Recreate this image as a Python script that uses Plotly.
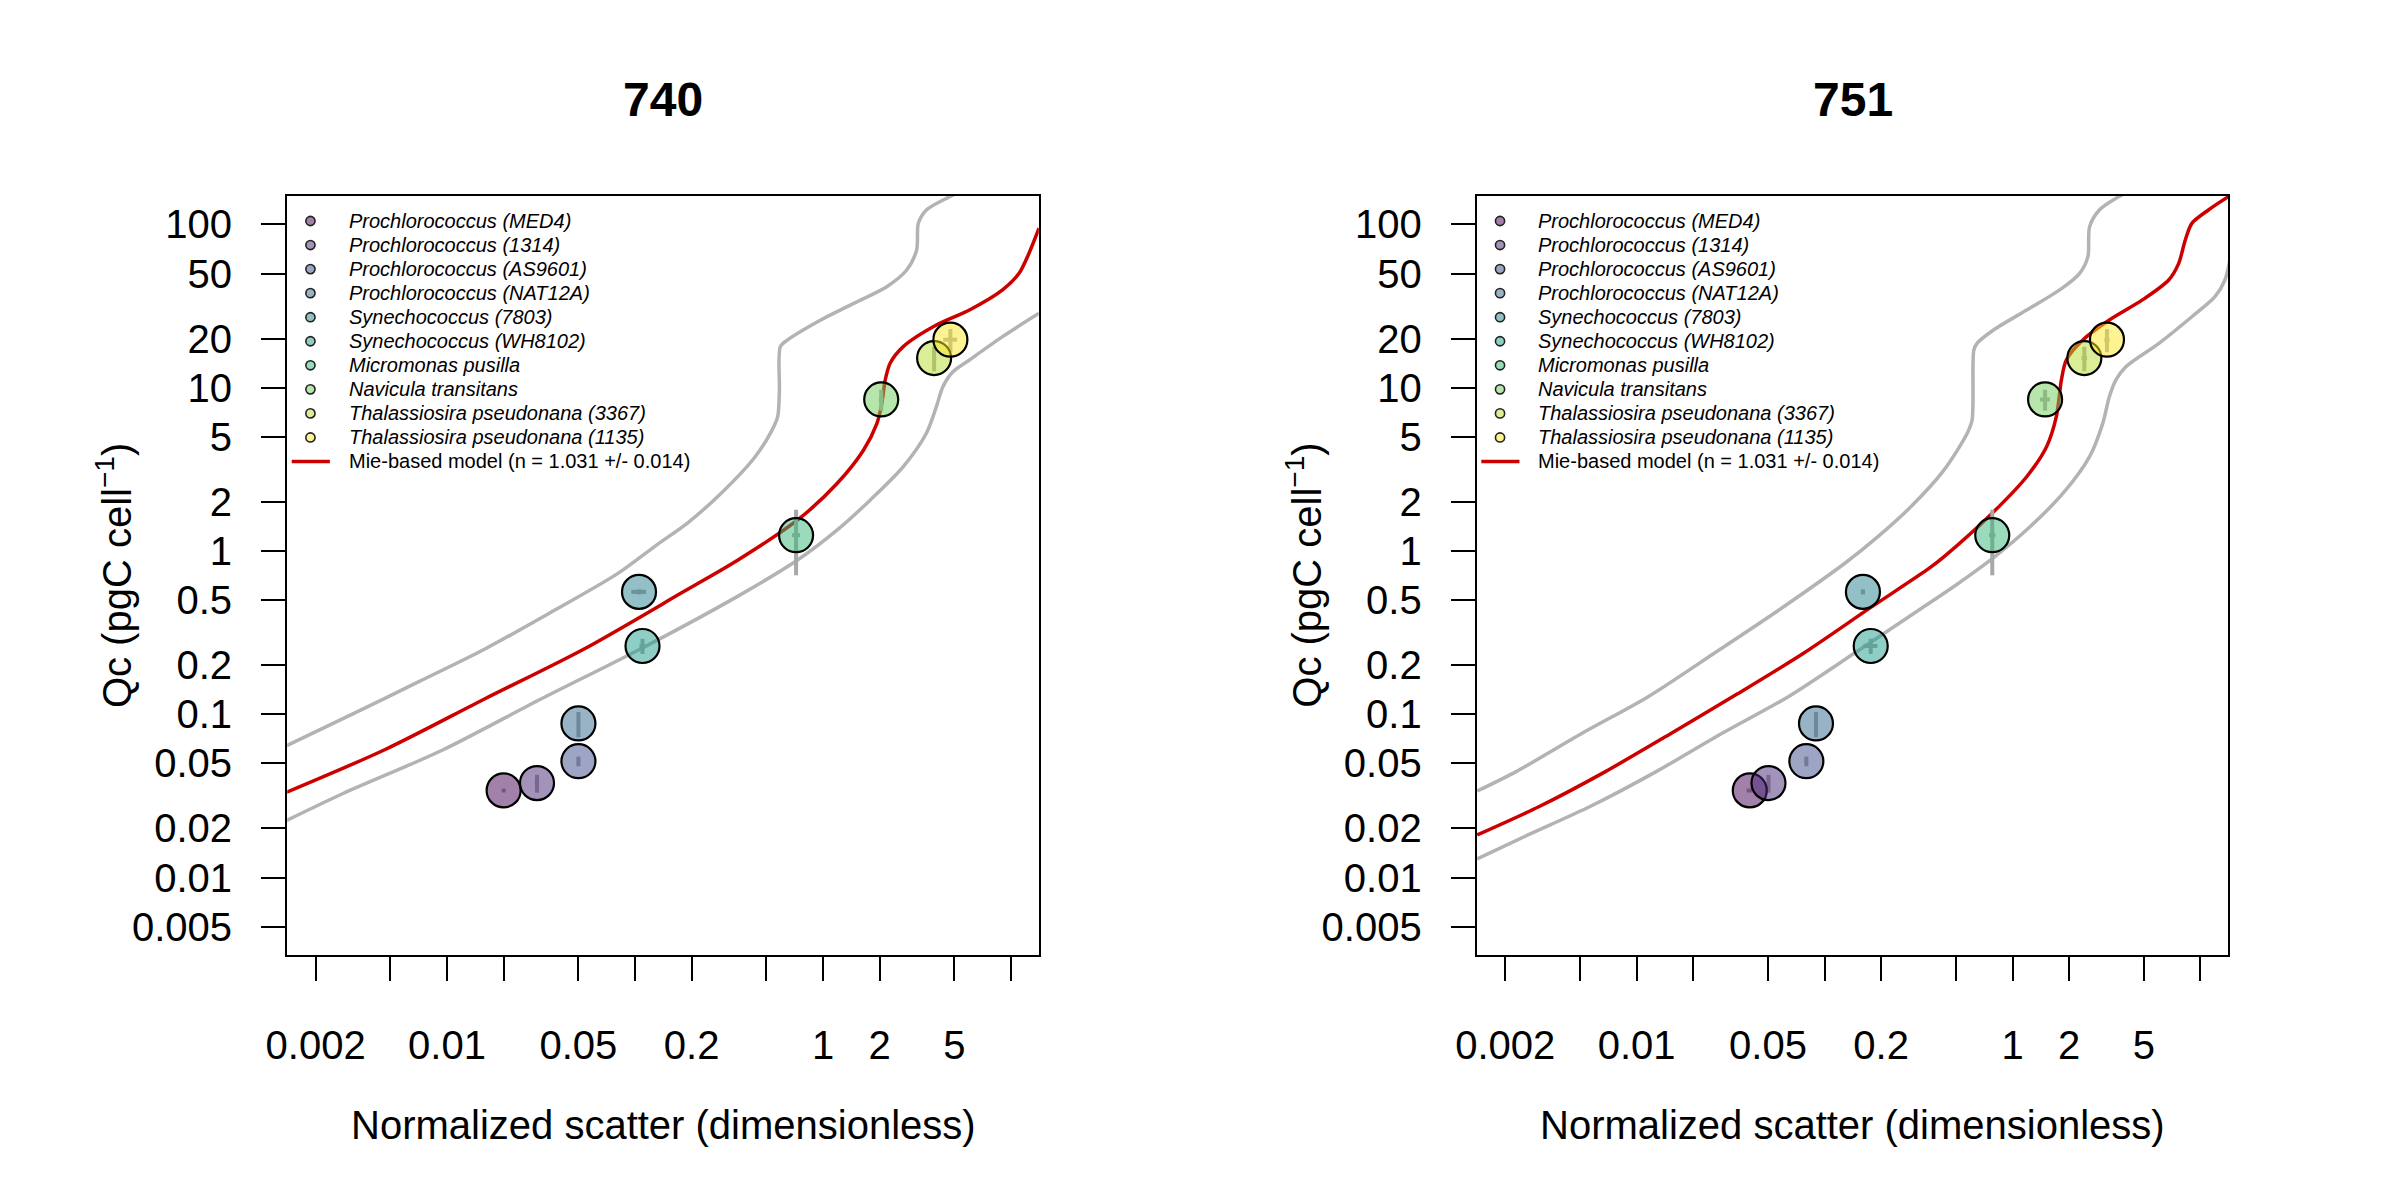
import plotly.graph_objects as go

# --- data (740 and 751 nm) ---
species = ["Prochlorococcus (MED4)", "Prochlorococcus (1314)", "Prochlorococcus (AS9601)",
           "Prochlorococcus (NAT12A)", "Synechococcus (7803)", "Synechococcus (WH8102)",
           "Micromonas pusilla", "Navicula transitans", "Thalassiosira pseudonana (3367)",
           "Thalassiosira pseudonana (1135)"]
species_colors = ["#440154", "#482878", "#3E4A89", "#31688E", "#26828E",
                  "#1F9E89", "#35B779", "#6DCD59", "#B4DE2C", "#FDE725"]

# carbon per cell, same in both panels
qc = [0.0342, 0.0379, 0.0516, 0.0879, 0.562, 0.262, 1.25, 8.48, 15.2, 19.7]
qc_sd = [0.0006, 0.0048, 0.0035, 0.0155, 0.02, 0.028, 0.54, 1.25, 2.6, 3.2]

scatter_740 = [0.020, 0.0301, 0.050, 0.050, 0.105, 0.1096, 0.719, 2.04, 3.90, 4.76]
scatter_740_sd = [0.0004, 0.0008, 0.001, 0.001, 0.0094, 0.004, 0.035, 0.06, 0.1, 0.4]
scatter_751 = [0.040, 0.0503, 0.080, 0.090, 0.160, 0.176, 0.780, 1.49, 2.41, 3.18]
scatter_751_sd = [0.0015, 0.001, 0.0015, 0.0015, 0.004, 0.015, 0.03, 0.09, 0.08, 0.1]

# Mie-based model and its n +/- sd envelope, 740
model_740_x = [0.001403, 0.00472, 0.01592, 0.0536, 0.1807, 0.3532, 0.7328, 1.191, 1.644, 1.936,
               2.056, 2.143, 2.275, 2.673, 4.009, 6.012, 9.016, 11.04, 12.47, 14.09]
model_740_y = [0.03334, 0.0611, 0.1245, 0.2512, 0.5623, 0.881, 1.549, 2.600, 4.159, 6.053,
               8.035, 11.17, 14.13, 17.86, 24.21, 29.92, 39.72, 50.23, 66.68, 94.84]
upper_740_x = [0.001403, 0.003155, 0.007079, 0.01592, 0.03573, 0.08035, 0.1285, 0.1923, 0.2891,
               0.4325, 0.5297, 0.5741, 0.5861, 0.5929, 0.6486, 0.9727, 1.459, 2.183, 2.786,
               3.148, 3.214, 3.548, 4.721, 6.310]
upper_740_y = [0.06427, 0.1005, 0.1585, 0.2512, 0.4217, 0.7244, 1.076, 1.500, 2.275,
               3.741, 5.370, 6.653, 9.683, 17.86, 19.63, 26.00, 32.89, 41.59, 52.60,
               69.82, 101.6, 122.7, 147.9, 173.8]
lower_740_x = [0.001403, 0.002799, 0.009419, 0.03177, 0.1069, 0.3606, 0.7328, 1.191, 1.786,
               2.673, 3.548, 4.009, 4.345, 4.909, 6.012, 9.016, 14.09]
lower_740_y = [0.02239, 0.03273, 0.06026, 0.1245, 0.2512, 0.5370, 0.8810, 1.346, 2.056,
               3.289, 5.260, 7.656, 10.16, 12.53, 14.79, 20.56, 28.58]

# same for 751
model_751_x = [0.001419, 0.003034, 0.006823, 0.01531, 0.03443, 0.07727, 0.1738, 0.3606, 0.4325,
               0.7621, 1.189, 1.517, 1.710, 1.820, 1.932, 2.366, 3.273, 4.909, 6.776, 7.656,
               8.299, 8.995, 11.02, 14.06]
model_751_y = [0.01824, 0.02723, 0.04457, 0.07656, 0.1334, 0.2366, 0.4467, 0.7852, 0.9247,
               1.663, 2.851, 4.355, 6.653, 11.17, 14.79, 19.63, 26.00, 34.51, 45.71, 57.81,
               80.35, 101.6, 122.7, 147.9]
upper_751_x = [0.001419, 0.002286, 0.005129, 0.01153, 0.02588, 0.05821, 0.1282, 0.1923, 0.2884,
               0.4325, 0.5741, 0.6095, 0.6223, 0.6471, 0.7925, 1.189, 1.782, 2.275, 2.518,
               2.570, 2.897, 3.548, 4.467]
upper_751_y = [0.03388, 0.04457, 0.07656, 0.1282, 0.2366, 0.4416, 0.8414, 1.225, 1.871,
               3.141, 5.260, 6.353, 17.02, 18.71, 22.59, 29.92, 39.72, 50.23, 63.53,
               96.83, 122.7, 144.5, 166.0]
lower_751_x = [0.001419, 0.002642, 0.005649, 0.01271, 0.02851, 0.06412, 0.1439, 0.3236, 0.4875,
               0.7925, 1.239, 1.858, 2.570, 3.020, 3.273, 3.548, 4.009, 6.012, 8.995, 11.94,
               13.49, 14.45]
lower_751_y = [0.01303, 0.01824, 0.02723, 0.04457, 0.07656, 0.1282, 0.2366, 0.4416, 0.6067,
               0.9120, 1.409, 2.259, 3.784, 6.053, 8.810, 11.17, 13.46, 18.71, 27.23, 36.14,
               45.71, 63.10]

x_ticks = [0.002, 0.005, 0.01, 0.02, 0.05, 0.1, 0.2, 0.5, 1, 2, 5, 10]
x_tick_labels = ["0.002", "", "0.01", "", "0.05", "", "0.2", "", "1", "2", "5", ""]
y_ticks = [0.005, 0.01, 0.02, 0.05, 0.1, 0.2, 0.5, 1, 2, 5, 10, 20, 50, 100]
y_tick_labels = ["0.005", "0.01", "0.02", "0.05", "0.1", "0.2", "0.5", "1", "2", "5",
                 "10", "20", "50", "100"]
legend_model = "Mie-based model (n = 1.031 +/- 0.014)"

W, H = 2400, 1200
FONT = "Liberation Sans, Arial, Helvetica, sans-serif"
GREY = "#b3b3b3"
RED = "#cd0000"


def rgba(hex_col, a):
    h = hex_col.lstrip("#")
    return "rgba(%d,%d,%d,%s)" % (int(h[0:2], 16), int(h[2:4], 16), int(h[4:6], 16), a)


fill_cols = [rgba(c, 0.5) for c in species_colors]

# panel boxes in pixels (left, right), shared top/bottom
panels = [
    dict(name="740", left=268.6, right=1026.8, xs=scatter_740, xsd=scatter_740_sd,
         curves=[(upper_740_x, upper_740_y, GREY), (lower_740_x, lower_740_y, GREY),
                 (model_740_x, model_740_y, RED)]),
    dict(name="751", left=1468.7, right=2226.8, xs=scatter_751, xsd=scatter_751_sd,
         curves=[(upper_751_x, upper_751_y, GREY), (lower_751_x, lower_751_y, GREY),
                 (model_751_x, model_751_y, RED)]),
]
TOP, BOTTOM = 195.9, 954.8

fig = go.Figure()
shapes = []
annotations = []


def note(text, x, y, size, **kw):
    d = dict(text=text, x=x / W, y=1 - y / H, xref="paper", yref="paper", showarrow=False,
             xanchor="center", yanchor="middle", font=dict(family=FONT, size=size, color="black"))
    d.update(kw)
    annotations.append(d)


for i, p in enumerate(panels):
    xa = "x" if i == 0 else "x2"
    ya = "y" if i == 0 else "y2"
    for cx, cy, col in p["curves"]:
        fig.add_trace(go.Scatter(x=cx, y=cy, mode="lines", xaxis=xa, yaxis=ya,
                                 line=dict(color=col, width=3.5, shape="spline", smoothing=0.8),
                                 showlegend=False, hoverinfo="skip"))
    fig.add_trace(go.Scatter(
        x=p["xs"], y=qc, mode="markers", xaxis=xa, yaxis=ya, showlegend=False,
        text=species,
        marker=dict(size=34, color=fill_cols, line=dict(color="black", width=2.2)),
        error_y=dict(type="data", array=qc_sd, color="#a8a8a8", thickness=4, width=0),
        error_x=dict(type="data", array=p["xsd"], color="#a8a8a8", thickness=4, width=0),
    ))

    axis_common = dict(type="log", showgrid=False, zeroline=False, showline=True,
                       linecolor="black", linewidth=2.4, mirror=True, ticks="outside",
                       ticklen=24, tickwidth=2.4, tickcolor="black",
                       tickfont=dict(family=FONT, size=40, color="black"))
    dom_x = [p["left"] / W, p["right"] / W]
    dom_y = [1 - BOTTOM / H, 1 - TOP / H]
    xkey = "xaxis" if i == 0 else "xaxis2"
    ykey = "yaxis" if i == 0 else "yaxis2"
    fig.update_layout(**{
        xkey: dict(axis_common, domain=dom_x, anchor=ya, range=[-2.85, 1.148],
                   tickvals=x_ticks, ticktext=x_tick_labels, ticklabelstandoff=30),
        ykey: dict(axis_common, domain=dom_y, anchor=xa, range=[-2.473, 2.175],
                   tickvals=y_ticks, ticktext=y_tick_labels, ticklabelstandoff=21),
    })

    mid = (p["left"] + p["right"]) / 2
    note("<b>%s</b>" % p["name"], mid, 99.5, 48)
    note("Normalized scatter (dimensionless)", mid, 1125, 40)
    note("Qc (pgC cell<sup>\u22121</sup>)", p["left"] - 174, (TOP + BOTTOM) / 2, 40, textangle=-90)

    # legend, drawn by hand so the rows sit tight like the original
    for k, name in enumerate(species + [legend_model]):
        row_y = 221 + 24.05 * k
        if k < len(species):
            shapes.append(dict(type="circle", xref="paper", yref="paper",
                               xsizemode="pixel", ysizemode="pixel",
                               xanchor=(p["left"] + 23.4) / W, yanchor=1 - row_y / H,
                               x0=-4.6, x1=4.6, y0=-4.6, y1=4.6,
                               fillcolor=fill_cols[k], line=dict(color="#222222", width=1.6)))
            label = "<i>%s</i>" % name
        else:
            shapes.append(dict(type="line", xref="paper", yref="paper",
                               x0=(p["left"] + 4.5) / W, x1=(p["left"] + 43) / W,
                               y0=1 - row_y / H, y1=1 - row_y / H,
                               line=dict(color=RED, width=3.4)))
            label = name
        note(label, p["left"] + 60, row_y, 20, xanchor="left")

fig.update_layout(width=W, height=H, margin=dict(l=0, r=0, t=0, b=0),
                  paper_bgcolor="white", plot_bgcolor="white",
                  shapes=shapes, annotations=annotations, showlegend=False)

# the page body has a default 8px margin; drop it so the figure sits at the window corner
fig.write_html("out.html", config={"displayModeBar": False},
               post_script="document.body.style.margin='0';document.body.style.overflow='hidden';")
